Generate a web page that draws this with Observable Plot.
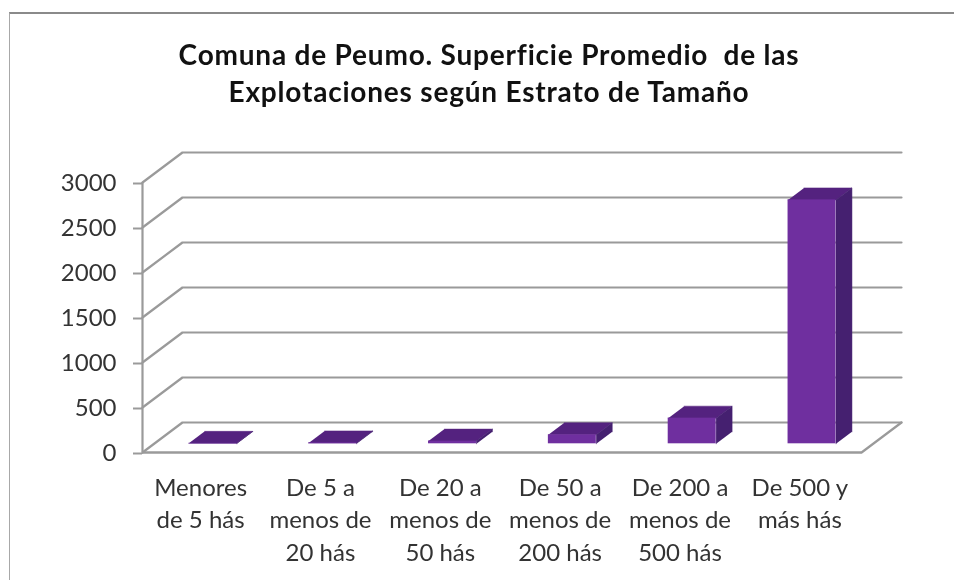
<!DOCTYPE html>
<html><head><meta charset="utf-8">
<script src="https://cdn.jsdelivr.net/npm/d3@7"></script>
<script src="https://cdn.jsdelivr.net/npm/@observablehq/plot@0.6"></script>
<style>
html,body{margin:0;padding:0;background:#fff;}
#page{position:relative;width:954px;height:580px;overflow:hidden;filter:blur(0.4px);}
#border{position:absolute;left:9px;top:12px;right:-5px;bottom:-5px;border-top:2px solid #8a8a8a;border-left:1px solid #a8a8a8;}
#title{position:absolute;left:0;top:36px;width:978px;text-align:center;font:700 28px/37px Lato,sans-serif;letter-spacing:0.8px;color:#111;white-space:nowrap;}
#chart{position:absolute;left:0;top:130px;}
</style></head><body>
<div id="page"><div id="border"></div>
<div id="title">Comuna de Peumo. Superficie Promedio&nbsp; de las<br>Explotaciones según Estrato de Tamaño</div>
<div id="chart"></div></div>
<script>
const categories = ["Menores\nde 5 hás","De 5 a\nmenos de\n20 hás","De 20 a\nmenos de\n50 hás","De 50 a\nmenos de\n200 hás","De 200 a\nmenos de\n500 hás","De 500 y\nmás hás"];
const values = [5, 10, 30, 100, 285, 2710];
const yTicks = [0,500,1000,1500,2000,2500,3000];
const depthX = 1/3, depthY = 1000/3;      // one unit of depth, in category and value units
const barZ0 = 0.29, barZ1 = 0.69, barW = 0.4, barC = 0.49;
const colFront = "#6f2f9f", colTop = "#54227f", colSide = "#452070", gridCol = "#9a9a9a";

const P = (x,v,z) => ({x: x + z*depthX, y: v + z*depthY});
const wall = [];
yTicks.forEach(t => {
  wall.push({k:"b"+t, ...P(0,t,0)}, {k:"b"+t, ...P(0,t,1)}, {k:"b"+t, ...P(categories.length,t,1)});
});
wall.push({k:"f", ...P(6,0,0)}, {k:"f", ...P(6,0,1)});
const faces = [];
values.forEach((v,i) => {
  const a = i+barC-barW/2, b = i+barC+barW/2;
  [[a,barZ0],[b,barZ0],[b,barZ1],[a,barZ1]].forEach(([x,z]) => faces.push({k:"t"+i, c:colTop, ...P(x,v,z)}));
  [[0,barZ0],[v,barZ0],[v,barZ1],[0,barZ1]].forEach(([h,z]) => faces.push({k:"s"+i, c:colSide, ...P(b,h,z)}));
});
const fronts = values.map((v,i) => {
  const a = i+barC-barW/2, b = i+barC+barW/2;
  return {x1:P(a,0,barZ0).x, x2:P(b,0,barZ0).x, y1:P(a,0,barZ0).y, y2:P(a,v,barZ0).y};
});
const fig = Plot.plot({
  width:954, height:450, marginLeft:142, marginRight:53, marginTop:22, marginBottom:128,
  style:{background:"transparent", fontFamily:"Lato,sans-serif", overflow:"visible"},
  x:{domain:[0,categories.length+depthX], axis:null},
  y:{domain:[0,3000+depthY], axis:null},
  marks:[
    Plot.line(wall,{x:"x",y:"y",z:"k",stroke:gridCol,strokeWidth:2.2}),
    Plot.ruleX([0],{y1:0,y2:3000,stroke:gridCol,strokeWidth:2.2}),
    Plot.ruleY([0],{x1:0,x2:categories.length,stroke:gridCol,strokeWidth:2.6}),
    Plot.axisY(yTicks,{anchor:"left",tickSize:9,tickPadding:17,stroke:gridCol,strokeWidth:2,fontSize:24,fill:"#333",label:null,textStroke:"none",tickFormat:d=>String(d),dy:1}),
    Plot.line(faces,{x:"x",y:"y",z:"k",fill:"c",stroke:"c",strokeWidth:0.5}),
    Plot.rect(fronts,{x1:"x1",x2:"x2",y1:"y1",y2:"y2",fill:colFront}),
    Plot.text(categories,{x:(d,i)=>i+0.485,y:()=>0,text:d=>d,dy:20,lineAnchor:"top",lineHeight:1.354,fontSize:24,fill:"#333"})
  ]
});
document.getElementById("chart").append(fig);
</script>
</body></html>
